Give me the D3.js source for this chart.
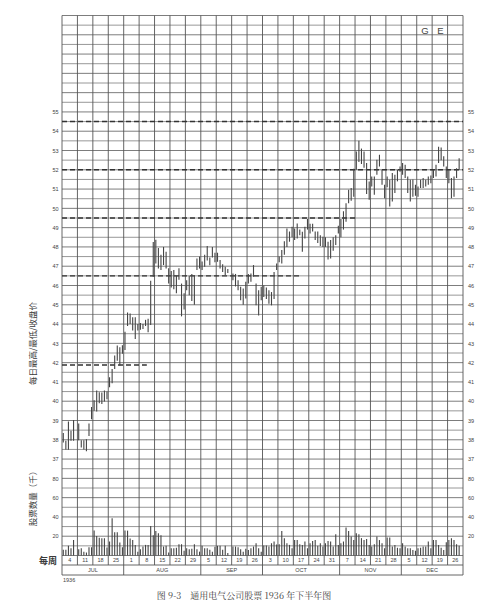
<!DOCTYPE html>
<html><head><meta charset="utf-8">
<script src="https://cdn.jsdelivr.net/npm/d3@7/dist/d3.min.js"></script>
<style>body{margin:0;background:#fff}svg{display:block}</style>
</head><body><svg id="c" width="485" height="600"></svg>
<script>
// ---------- data ----------
const weekLabels = [4,11,18,25,1,8,15,22,29,5,12,19,26,3,10,17,24,31,7,14,21,28,5,12,19,26];
const monthLabels = ["JUL","AUG","SEP","OCT","NOV","DEC"];
const monthFirstWeek = [0,4,9,13,18,22,26];
const priceTicks = [37,38,39,40,41,42,43,44,45,46,47,48,49,50,51,52,53,54,55];
const volumeTicks = [20,40,60,80];
const supportLevels = [54.5, 52, 49.5, 46.5, 41.875];
const supportEndWeek = [26, 26, 19, 15.5, 5.5];

const dailyHigh = [
 [38.35,37.95,38.95,38.47,39.02],
 [38.85,37.98,37.98,38.03,38.85,39.7],
 [40.05,40.55,40.46,40.45,40.55,40.5],
 [41.24,41.67,42.37,42.89,42.8,42.9],
 [43.6,44.6,44.55,44.36,44.36,44.0],
 [44.05,44.0,44.22,44.27,46.25,48.25],
 [48.37,47.95,47.6,48.0,47.75,46.9],
 [46.75,46.8,46.5,46.9,46.1,45.6],
 [46.27,46.5,46.6,46.5,47.4,47.5],
 [47.25,47.6,48.05,47.45,48.0,47.7],
 [47.7,47.32,47.1,46.97,46.85],
 [46.62,46.6,46.27,45.93,45.85,46.19],
 [46.6,46.62,47.06,46.1,45.75,45.93],
 [46.0,45.9,45.75,45.66,46.7,47.14],
 [47.5,47.84,48.3,48.96,48.8,49.05],
 [48.96,49.22,48.9,48.79,49.05,49.45],
 [49.2,49.2,48.8,48.8,48.6,48.53],
 [48.5,48.27,48.36,48.5,48.6,49.1],
 [49.45,49.85,50.26,50.96,51.05,52.05],
 [52.95,53.5,53.1,52.95,52.35,51.39],
 [51.65,51.65,52.52,52.78,52.0,51.22],
 [51.65,51.48,51.83,51.74,52.0,52.17],
 [52.35,52.26,51.65,51.48,51.5,51.22],
 [51.13,51.48,51.57,51.48,51.65,51.7],
 [52.0,52.26,53.2,53.15,52.7,52.17],
 [52.0,51.57,51.65,52.08,52.6]
];
const dailyLow = [
 [37.86,37.5,37.48,37.95,37.95],
 [37.98,37.6,37.5,37.4,38.2,39.07],
 [39.5,39.47,39.9,39.85,39.99,40.1],
 [40.72,40.93,41.67,42.1,41.85,42.46],
 [42.65,43.9,44.0,43.67,43.23,43.67],
 [43.7,43.75,43.9,43.58,43.95,46.45],
 [47.14,46.88,46.8,47.06,46.88,46.1],
 [45.9,45.8,45.6,46.3,44.4,44.75],
 [45.75,45.5,45.2,45.0,46.8,46.88],
 [46.8,46.97,47.3,47.05,47.45,47.2],
 [47.23,46.88,46.7,46.55,46.65],
 [46.27,45.95,45.75,45.23,45.0,45.32],
 [46.1,46.19,46.45,44.97,44.45,45.23],
 [45.4,45.3,45.05,44.97,45.3,46.8],
 [47.2,47.14,47.6,48.0,48.27,48.5],
 [48.36,48.44,48.6,47.75,48.44,48.9],
 [48.7,48.8,48.36,48.2,48.05,48.0],
 [48.0,47.35,47.4,47.8,48.1,48.7],
 [48.5,48.9,49.3,50.26,50.4,50.6],
 [52.0,52.4,52.3,52.1,50.75,50.45],
 [51.13,50.7,51.74,52.17,51.22,50.52],
 [51.1,50.09,50.35,50.8,51.4,51.9],
 [51.74,51.57,50.79,50.35,50.6,50.65],
 [50.6,51.05,51.05,51.13,51.22,51.3],
 [51.57,51.65,52.35,52.5,52.17,51.57],
 [51.3,50.52,50.6,51.57,52.0]
];
const dailyVolume = [
 [6,6,10,7.5,16],
 [6.5,7.5,4,3,8.6,8.6],
 [25.8,20.3,18.3,18,18,8.3],
 [14.5,38.7,24,24,13.4,8.6],
 [25.8,25.8,17.6,16,11,4],
 [6.5,9.3,11,11,30.7,21],
 [25.5,23,21,9.3,10,3],
 [7.5,7.5,8,11.7,11.7,5],
 [7.5,6.5,7,11.7,6.5,4],
 [10,7.5,7.5,6,4,9],
 [10,10,6,10,2.5],
 [9.3,9.3,8.6,6.5,4,7],
 [5.8,7.5,9.3,12.7,7.5,4],
 [10.3,10.3,9.3,12.7,14.5,11.5],
 [11.7,25.5,18,12.7,11,7.5],
 [16,16,11.7,11,14.5,7.5],
 [12.7,15,16,10,12.7,9.3],
 [12.7,15,14.5,9.3,22,11],
 [12.7,14.5,29,25.5,19.7,16],
 [23,22,18,16,17.2,11],
 [9.3,11.7,19.7,16,12.7,7.5],
 [18.6,18.6,9.3,11,8,7.5],
 [12.7,9.3,7.5,7.5,5.8,4.8],
 [7.5,8,9.3,9.3,14.5,7.5],
 [16,16,11,8,5.8,13.7],
 [16,18,16,11.7,10]
];

// ---------- build ----------
const svg = d3.select("#c");
svg.append("rect").attr("width",485).attr("height",600).attr("fill","#fff");

const L = 62, R = 463;
const x = d3.scaleBand().domain(d3.range(weekLabels.length)).range([L, R]).padding(0);
const xw = d3.scaleLinear().domain([0, weekLabels.length]).range([L, R]);
const day = d3.scaleBand().domain(d3.range(6)).range([0, x.bandwidth()]);
const y = d3.scaleLinear().domain([32, 60]).range([555.5, 15.5]);
const yv = d3.scaleLinear().domain([0, 100]).range([y(32), y(37)]);

const font = "'Liberation Sans', Arial, sans-serif";
const cjk = "'Noto Sans CJK SC', sans-serif";

// grid
const g = svg.append("g");
g.selectAll("line.h").data(d3.range(32, 60.001, 0.5)).join("line")
  .attr("x1", L).attr("x2", R).attr("y1", d => y(d)).attr("y2", d => y(d))
  .attr("stroke", d => Number.isInteger(d) ? "#6e6e6e" : "#8c8c8c").attr("stroke-width", 0.9);
g.selectAll("line.v").data(d3.range(weekLabels.length + 1)).join("line")
  .attr("x1", d => xw(d)).attr("x2", d => xw(d)).attr("y1", y(60)).attr("y2", y(32) + 9.5)
  .attr("stroke", "#555").attr("stroke-width", 0.9);

// label rows
g.append("line").attr("x1", L).attr("x2", R).attr("y1", y(32)+9.5).attr("y2", y(32)+9.5).attr("stroke","#555").attr("stroke-width",0.9);
g.append("line").attr("x1", L).attr("x2", R).attr("y1", y(32)+19.5).attr("y2", y(32)+19.5).attr("stroke","#555").attr("stroke-width",0.9);
g.selectAll("line.m").data(monthFirstWeek).join("line")
  .attr("x1", d => xw(d)).attr("x2", d => xw(d)).attr("y1", y(32)+9.5).attr("y2", y(32)+19.5)
  .attr("stroke","#555").attr("stroke-width",0.9);

// dashed levels
svg.append("g").selectAll("line").data(supportLevels).join("line")
  .attr("x1", L).attr("x2", (d,i) => xw(supportEndWeek[i]))
  .attr("y1", d => y(d)).attr("y2", d => y(d))
  .attr("stroke", "#333").attr("stroke-width", 1.4).attr("stroke-dasharray", "5,3");

// price bars
const bars = [];
dailyHigh.forEach((wk, w) => wk.forEach((h, i) => bars.push({w, i, h, l: dailyLow[w][i]})));
svg.append("g").selectAll("line").data(bars).join("line")
  .attr("x1", d => x(d.w) + day(d.i) + day.bandwidth()/2)
  .attr("x2", d => x(d.w) + day(d.i) + day.bandwidth()/2)
  .attr("y1", d => y(d.h)).attr("y2", d => y(d.l))
  .attr("stroke", "#444").attr("stroke-width", 1.1);

// volume bars
const vols = [];
dailyVolume.forEach((wk, w) => wk.forEach((v, i) => vols.push({w, i, v})));
svg.append("g").selectAll("line").data(vols).join("line")
  .attr("x1", d => x(d.w) + day(d.i) + day.bandwidth()/2)
  .attr("x2", d => x(d.w) + day(d.i) + day.bandwidth()/2)
  .attr("y1", d => yv(d.v)).attr("y2", yv(0))
  .attr("stroke", "#444").attr("stroke-width", 1.1);

// axes
function styleAxis(sel) {
  sel.select(".domain").remove();
  sel.selectAll(".tick line").remove();
  sel.selectAll("text").attr("font-family", font).attr("font-size", 5.5).attr("fill", "#444");
}
svg.append("g").attr("transform", `translate(${L},0)`)
  .call(d3.axisLeft(y).tickValues(priceTicks).tickSize(0).tickPadding(3.5)).call(styleAxis);
svg.append("g").attr("transform", `translate(${R},0)`)
  .call(d3.axisRight(y).tickValues(priceTicks).tickSize(0).tickPadding(5)).call(styleAxis);
svg.append("g").attr("transform", `translate(${L},0)`)
  .call(d3.axisLeft(yv).tickValues(volumeTicks).tickSize(0).tickPadding(3.5)).call(styleAxis);
svg.append("g").attr("transform", `translate(${R},0)`)
  .call(d3.axisRight(yv).tickValues(volumeTicks).tickSize(0).tickPadding(5)).call(styleAxis);

// week labels
svg.append("g").attr("transform", `translate(0,${y(32)+2.5})`)
  .call(d3.axisBottom(x).tickFormat(i => weekLabels[i]).tickSize(0).tickPadding(0)).call(styleAxis);

// month labels
svg.append("g").selectAll("text").data(monthLabels).join("text")
  .attr("x", (d,i) => (xw(monthFirstWeek[i]) + xw(monthFirstWeek[i+1]))/2)
  .attr("y", y(32)+16.5).attr("text-anchor","middle")
  .attr("font-family", font).attr("font-size", 5.5).attr("fill","#444").text(d => d);

svg.append("text").attr("x", 63).attr("y", 581.5).attr("font-family", font).attr("font-size", 5.5).attr("fill","#444").text("1936");

// titles
svg.append("text").attr("transform", `translate(36,343.5) rotate(-90)`).attr("text-anchor","middle")
  .attr("font-family", cjk).attr("font-size", 8.5).attr("fill","#3a3a3a").text("每日最高/最低/收盘价");
svg.append("text").attr("transform", `translate(36,496.5) rotate(-90)`).attr("text-anchor","middle")
  .attr("font-family", cjk).attr("font-size", 8.5).attr("fill","#3a3a3a").text("股票数量（千）");
svg.append("text").attr("x", 48).attr("y", 564).attr("text-anchor","middle")
  .attr("font-family", cjk).attr("font-size", 9).attr("font-weight", "bold").attr("fill","#3a3a3a").text("每周");

svg.append("text").attr("x", 425).attr("y", 34.3).attr("text-anchor","middle")
  .attr("font-family", font).attr("font-size", 9.5).attr("fill","#444").text("G");
svg.append("text").attr("x", 440.3).attr("y", 34.3).attr("text-anchor","middle")
  .attr("font-family", font).attr("font-size", 9.5).attr("fill","#444").text("E");

svg.append("text").attr("x", 244).attr("y", 598.5).attr("text-anchor","middle")
  .attr("font-family", "'Noto Serif CJK SC','Noto Sans CJK SC',serif").attr("font-size", 9).attr("fill","#3a3a3a")
  .attr("xml:space","preserve").text("图 9-3　通用电气公司股票 1936 年下半年图");
</script></body></html>
